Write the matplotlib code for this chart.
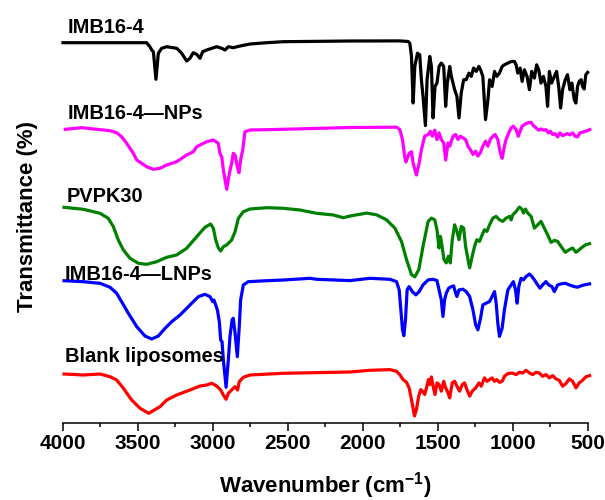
import matplotlib
matplotlib.use('Agg')
import matplotlib.pyplot as plt
import numpy as np

plt.rcParams['font.family'] = ['Liberation Sans', 'DejaVu Sans']
plt.rcParams['mathtext.fontset'] = 'custom'
plt.rcParams['mathtext.rm'] = 'Liberation Sans:bold'
plt.rcParams['mathtext.bf'] = 'Liberation Sans:bold'
plt.rcParams['mathtext.it'] = 'Liberation Sans:bold'

# ---------------- data (wavenumber cm-1, stacked transmittance, arb. units) ----------------
imb_w = [4000, 3442, 3420, 3408, 3397, 3380, 3364, 3342, 3308, 3241, 3208, 3175, 3153, 3131, 3108,
         3086, 3068, 3041, 2975, 2941, 2919, 2897, 2864, 2819, 2752, 2641, 2530, 2085,
         1753, 1697, 1686, 1675, 1664, 1653, 1635, 1620, 1609, 1598,
         1582, 1571, 1553, 1542, 1531, 1518, 1505, 1491, 1476, 1460,
         1447, 1436, 1420, 1409, 1387, 1372, 1358, 1343, 1327, 1310,
         1292, 1276, 1261, 1243, 1225, 1214, 1199, 1181, 1165, 1154,
         1137, 1121, 1106, 1088, 1070, 1055, 1032, 1010, 988, 977,
         966, 950, 937, 922, 904, 888, 873, 855, 840, 826,
         811, 795, 778, 767, 755, 740, 722, 707, 693, 680,
         667, 649, 634, 618, 605, 589, 578, 567, 556, 543,
         534, 523, 512, 500]
imb_t = [380.3, 380.3, 376.3, 373.0, 371.3, 343.7, 369.7, 374.7, 376.3, 374.7, 369.7, 362.0, 364.7, 370.3, 368.7,
         364.7, 371.3, 373.0, 376.3, 374.7, 373.0, 376.3, 375.3, 377.0, 379.0, 380.3, 381.3, 382.0,
         382.1, 381.5, 379.8, 366.5, 320.0, 356.6, 369.8, 368.2, 343.3, 326.7,
         297.4, 343.3, 366.5, 356.6, 305.1, 336.6, 339.9, 356.6, 359.9, 356.6,
         316.7, 339.9, 356.6, 346.6, 333.3, 326.7, 305.1, 330.0, 343.3, 343.3,
         349.9, 346.6, 354.9, 351.6, 356.6, 353.2, 346.6, 303.4, 323.3, 343.3,
         336.6, 351.6, 346.6, 349.9, 356.6, 358.2, 359.9, 361.5, 361.5, 358.2,
         349.9, 354.9, 341.6, 353.2, 346.6, 333.3, 351.6, 344.9, 358.2, 353.2,
         339.9, 346.6, 336.6, 316.7, 351.6, 339.9, 346.6, 351.6, 336.6, 315.0,
         333.3, 343.3, 348.3, 333.3, 339.9, 323.3, 320.0, 336.6, 341.6, 343.3,
         336.6, 334.0, 348.3, 350.6]

nps_w = [3985, 3875, 3686, 3642, 3609, 3575, 3531, 3508, 3442, 3397, 3353, 3308, 3242, 3175, 3130,
         3108, 3041, 2997, 2964, 2953, 2941, 2930, 2908, 2890, 2875, 2864, 2852, 2837, 2826, 2815,
         2801, 2786, 2752, 2530, 2085, 1775, 1753, 1735, 1720, 1712, 1691, 1675, 1664, 1642, 1624,
         1609, 1587, 1564, 1549, 1536, 1520, 1505, 1491, 1476, 1460, 1447, 1431, 1420, 1398, 1380,
         1365, 1349, 1332, 1314, 1298, 1283, 1265, 1247, 1232, 1216, 1199, 1181, 1165, 1150, 1132,
         1117, 1099, 1083, 1070, 1055, 1044, 1026, 1010, 995, 977, 962, 950, 937, 922, 900,
         877, 862, 844, 826, 811, 793, 778, 762, 749, 733, 718, 700, 685, 667, 649,
         634, 618, 600, 583, 567, 552, 534, 512, 485]
nps_t = [293.7, 295.3, 292.3, 290.3, 286.3, 279.7, 269.7, 263.0, 256.3, 253.7, 254.7, 258.0, 261.3, 268.0, 271.3,
         276.3, 281.3, 283.0, 279.7, 269.7, 266.3, 253.0, 233.7, 249.7, 259.7, 269.7, 268.0, 256.3, 250.3, 263.0,
         273.0, 291.3, 293.0, 293.7, 295.5, 295.8, 293.4, 283.5, 266.0, 261.0, 269.7, 271.3, 259.7, 248.0, 259.7,
         273.0, 286.8, 288.4, 291.8, 286.8, 292.8, 283.5, 290.1, 283.5, 280.1, 263.0, 280.1, 276.8, 286.8, 288.5,
         283.5, 286.8, 285.1, 283.5, 276.8, 273.5, 268.5, 271.8, 266.9, 270.2, 276.8, 281.8, 276.8, 283.5, 286.8,
         288.5, 283.5, 270.2, 264.7, 276.8, 283.5, 290.1, 295.1, 296.8, 293.4, 286.8, 291.8, 296.8, 298.4, 300.1,
         300.7, 297.4, 295.1, 292.8, 294.1, 292.8, 293.4, 290.1, 291.8, 288.5, 289.4, 286.1, 290.1, 287.4, 288.5,
         289.4, 288.1, 290.1, 286.8, 286.1, 290.1, 290.8, 291.8, 293.4]

pvp_w = [3993, 3864, 3753, 3698, 3664, 3631, 3597, 3553, 3497, 3442, 3375, 3308, 3242, 3175, 3108,
         3053, 3015, 2997, 2981, 2964, 2948, 2930, 2908, 2875, 2852, 2830, 2797, 2752, 2641, 2530,
         2419, 2308, 2196, 2130, 2085, 1974, 1908, 1842, 1786, 1742, 1708, 1675, 1653, 1626, 1598,
         1564, 1542, 1520, 1505, 1491, 1482, 1471, 1458, 1443, 1429, 1416, 1403, 1387, 1372, 1358,
         1343, 1327, 1314, 1298, 1287, 1270, 1254, 1239, 1221, 1203, 1188, 1172, 1154, 1132, 1110,
         1088, 1066, 1044, 1021, 1010, 999, 977, 955, 939, 928, 915, 899, 877, 855, 833,
         811, 789, 767, 744, 722, 700, 678, 649, 622, 600, 578, 556, 534, 512, 487]
pvp_t = [215.7, 213.7, 209.7, 204.7, 196.3, 183.0, 173.0, 164.7, 159.7, 158.7, 161.3, 165.7, 168.0, 174.7, 186.3,
         195.7, 199.0, 194.7, 183.0, 175.3, 172.0, 176.3, 178.0, 183.0, 191.3, 204.7, 211.3, 214.0, 215.3, 214.7,
         213.0, 209.7, 208.0, 205.3, 207.0, 209.9, 208.2, 203.2, 194.9, 181.6, 163.4, 148.4, 146.1, 153.4, 176.7,
         201.6, 204.9, 203.2, 193.3, 175.0, 186.6, 176.7, 163.4, 160.1, 166.7, 160.1, 183.3, 198.2, 191.6, 183.3,
         196.6, 194.9, 176.7, 163.4, 155.1, 166.7, 176.7, 183.3, 181.6, 188.3, 193.3, 191.6, 198.2, 204.9, 206.6,
         203.2, 201.6, 204.9, 206.6, 203.2, 208.2, 211.5, 215.9, 213.9, 209.9, 213.9, 209.9, 206.6, 194.9, 198.2,
         201.6, 194.9, 188.3, 180.6, 182.6, 181.6, 176.7, 170.7, 173.3, 175.0, 170.7, 173.3, 176.0, 178.3, 179.3]

lnp_w = [3993, 3864, 3753, 3686, 3642, 3609, 3564, 3508, 3453, 3408, 3364, 3319, 3275, 3219, 3153,
         3097, 3053, 3019, 3001, 2993, 2981, 2970, 2957, 2948, 2939, 2930, 2912, 2897, 2886, 2872,
         2864, 2852, 2837, 2824, 2815, 2797, 2764, 2641, 2530, 2352, 2308, 2085,
         1952, 1819, 1775, 1757, 1746, 1735, 1726, 1715, 1704, 1691, 1669, 1646, 1624, 1598, 1564,
         1531, 1505, 1491, 1476, 1465, 1454, 1443, 1427, 1409, 1394, 1380, 1372, 1358, 1332, 1310,
         1287, 1265, 1247, 1232, 1214, 1199, 1177, 1154, 1137, 1121, 1110, 1099, 1088, 1070, 1055,
         1032, 1010, 995, 981, 970, 959, 944, 928, 911, 888, 871, 855, 833, 818, 800,
         778, 760, 738, 722, 700, 678, 649, 622, 589, 567, 545, 523, 487]
lnp_t = [142.3, 141.3, 139.7, 135.7, 129.7, 121.3, 109.7, 96.3, 87.0, 84.0, 87.0, 94.7, 101.3, 108.0, 118.0,
         126.3, 128.7, 126.3, 121.3, 123.0, 118.0, 113.0, 101.3, 83.0, 81.3, 63.0, 35.7, 63.0, 86.3, 103.0,
         104.7, 89.7, 66.3, 96.3, 123.0, 138.0, 141.3, 142.3, 143.0, 144.7, 143.7, 142.4,
         144.7, 143.7, 141.4, 133.1, 113.2, 93.2, 87.3, 103.2, 133.1, 136.4, 131.4, 128.1, 131.4, 138.1, 143.1,
         143.7, 142.4, 133.1, 123.1, 106.5, 123.1, 129.8, 134.8, 136.4, 137.1, 129.8, 126.5, 133.1, 133.8, 131.4,
         126.5, 113.2, 98.2, 93.2, 104.9, 118.1, 119.8, 121.5, 126.5, 131.4, 119.8, 99.9, 86.6, 94.9, 113.2,
         133.1, 138.1, 141.4, 133.1, 119.8, 136.4, 144.7, 143.1, 146.4, 149.0, 146.4, 143.1, 138.1, 134.8, 138.1,
         141.4, 138.1, 136.4, 131.4, 138.1, 139.1, 139.7, 138.1, 136.4, 135.8, 137.1, 138.1, 139.1]

blank_w = [3993, 3864, 3753, 3686, 3642, 3597, 3542, 3486, 3428, 3353, 3308, 3242, 3153, 3086, 3041,
           3008, 2975, 2948, 2930, 2912, 2897, 2875, 2852, 2835, 2824, 2797, 2752, 2530, 2085,
           1952, 1819, 1775, 1753, 1731, 1708, 1691, 1675, 1655, 1642, 1627, 1613, 1602, 1587, 1575,
           1562, 1553, 1542, 1531, 1518, 1505, 1491, 1476, 1460, 1447, 1431, 1420, 1403, 1387, 1372,
           1354, 1336, 1321, 1305, 1287, 1270, 1247, 1225, 1210, 1188, 1172, 1154, 1137, 1121, 1106,
           1088, 1070, 1055, 1032, 1004, 977, 955, 933, 911, 888, 866, 844, 822, 800, 778,
           755, 733, 711, 689, 667, 645, 622, 600, 578, 556, 534, 512, 487]
blank_t = [49.0, 48.0, 49.0, 46.3, 43.0, 34.7, 23.0, 14.7, 9.7, 16.3, 23.0, 28.0, 33.0, 37.0, 38.0,
           39.7, 37.0, 33.0, 28.0, 23.7, 29.7, 33.0, 36.3, 33.0, 41.3, 45.7, 48.0, 49.7, 51.0,
           52.7, 53.4, 51.7, 48.4, 43.4, 40.7, 35.1, 23.5, 7.0, 13.5, 26.8, 33.4, 31.8, 28.5, 35.1,
           43.4, 38.4, 46.1, 36.8, 28.5, 40.1, 38.4, 31.8, 41.7, 35.1, 30.1, 25.1, 40.1, 41.7, 36.8,
           31.8, 38.4, 40.1, 33.4, 26.8, 31.8, 35.1, 40.1, 36.8, 45.1, 41.7, 43.4, 45.1, 41.7, 43.4,
           40.7, 41.7, 46.7, 49.4, 50.0, 48.4, 50.7, 50.0, 52.7, 50.0, 48.4, 50.7, 50.0, 46.7, 48.4,
           45.1, 47.4, 44.1, 42.7, 36.8, 39.4, 44.1, 41.7, 35.1, 40.1, 42.7, 46.1, 47.4]

series_names = ['IMB16-4', 'IMB16-4\u2014NPs', 'PVPK30', 'IMB16-4\u2014LNPs', 'Blank liposomes']
series_w = [imb_w, nps_w, pvp_w, lnp_w, blank_w]
series_t = [imb_t, nps_t, pvp_t, lnp_t, blank_t]
colors = ['#000000', '#ff00ff', '#008000', '#0000ff', '#ff0000']
label_pos = [(3968, 389.7), (3972, 303.7), (3977, 220.7), (3987, 143.0), (3987, 61.0)]

x_ticks = [4000, 3500, 3000, 2500, 2000, 1500, 1000, 500]
x_minor = [3750, 3250, 2750, 2250, 1750, 1250, 750]

# ---------------- figure ----------------
fig = plt.figure(figsize=(6.05, 5.0), dpi=100)
ax = fig.add_axes([63 / 605, 77 / 500, 524.6 / 605, 413 / 500])

for w, t, c in zip(series_w, series_t, colors):
    ax.plot(w, t, color=c, lw=2.3, clip_on=False, solid_joinstyle='round')

for name, (lx, ly) in zip(series_names, label_pos):
    ax.text(lx, ly, name, fontsize=14.4, fontweight='bold', ha='left', va='baseline',
            color='black', zorder=5)

ax.set_xlim(4000, 500)
ax.set_ylim(0, 413)
for s in ['left', 'top', 'right']:
    ax.spines[s].set_visible(False)
ax.spines['bottom'].set_linewidth(1.1)
ax.set_yticks([])
ax.set_xticks(x_ticks)
ax.set_xticks(x_minor, minor=True)
ax.set_xticklabels([str(v) for v in x_ticks])
ax.tick_params(axis='x', which='major', direction='out', length=6, width=1.1,
               labelsize=15, pad=2)
ax.tick_params(axis='x', which='minor', direction='out', length=3, width=1.1)
for lab in ax.get_xticklabels():
    lab.set_fontweight('bold')

ax.set_xlabel('Wavenumber (cm$^{-1}$)', fontsize=16, fontweight='bold', va='baseline')
ax.xaxis.set_label_coords(0.5, -0.168)
ax.set_ylabel('Transmittance (%)', fontsize=16, fontweight='bold', va='center')
ax.yaxis.set_label_coords(-0.0686, 0.5)

fig.savefig('out.png', dpi=100)
